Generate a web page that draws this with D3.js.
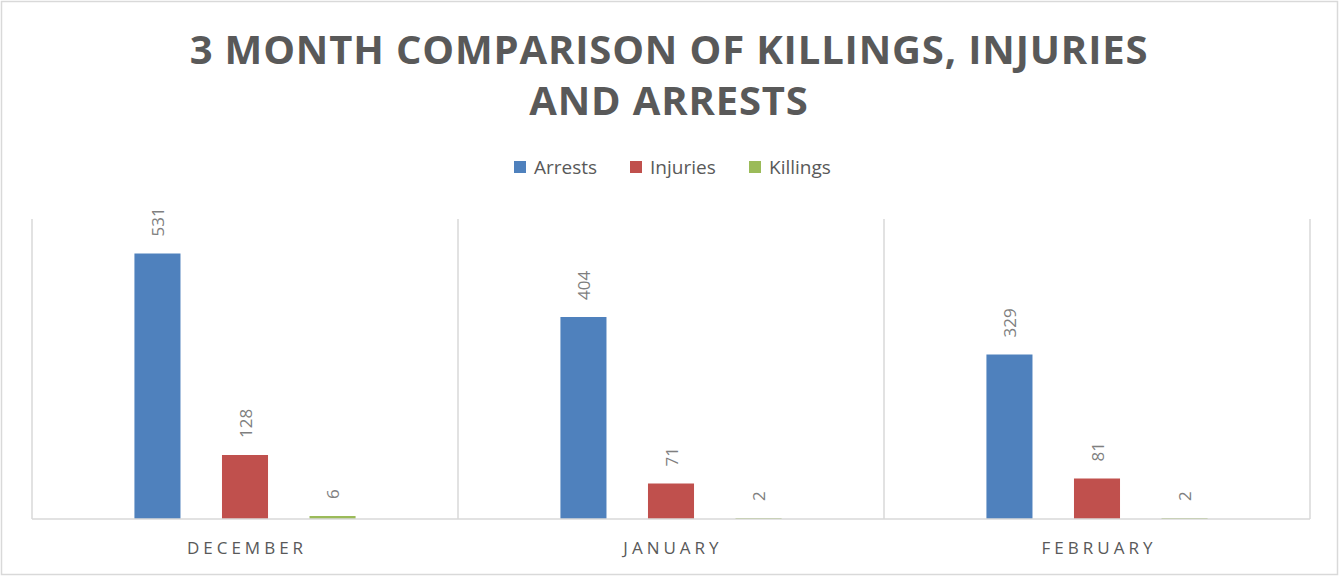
<!DOCTYPE html>
<html>
<head>
<meta charset="utf-8">
<script src="https://cdn.jsdelivr.net/npm/d3@7"></script>
<style>
  html, body { margin: 0; padding: 0; background: #fff; }
  svg { display: block; }
</style>
</head>
<body>
<div id="chart"></div>
<script>
const months = ["DECEMBER", "JANUARY", "FEBRUARY"];
const seriesNames = ["Arrests", "Injuries", "Killings"];
const arrests = [531, 404, 329];
const injuries = [128, 71, 81];
const killings = [6, 2, 2];
const colors = ["#4f81bd", "#c0504d", "#9bbb59"];
const titleLines = ["3 MONTH COMPARISON OF KILLINGS, INJURIES", "AND ARRESTS"];

const width = 1339, height = 576;
const margin = { top: 219, right: 29, bottom: 57, left: 32 };
const values = [arrests, injuries, killings];

const svg = d3.select('#chart')
  .append('svg')
  .attr('width', width)
  .attr('height', height);

// outer frame
svg.append('rect')
  .attr('x', 1.5).attr('y', 1.5)
  .attr('width', width - 3).attr('height', height - 3)
  .attr('fill', '#fff')
  .attr('stroke', '#d9d9d9')
  .attr('stroke-width', 1.5);

// title
const title = svg.append('text')
  .attr('text-anchor', 'middle')
  .attr('font-family', 'Open Sans, sans-serif')
  .attr('font-weight', 'bold')
  .attr('font-size', '40px')
  .attr('letter-spacing', '0.85px')
  .attr('fill', '#595959');
title.selectAll('tspan')
  .data(titleLines)
  .enter()
  .append('tspan')
  .attr('x', 669)
  .attr('y', (d, i) => 64 + i * 51)
  .text(d => d);

// legend
const legendX = [514, 630, 749];
const legend = svg.append('g');
seriesNames.forEach((name, i) => {
  legend.append('rect')
    .attr('x', legendX[i]).attr('y', 161)
    .attr('width', 12).attr('height', 12)
    .attr('fill', colors[i]);
  legend.append('text')
    .attr('x', legendX[i] + 20).attr('y', 174)
    .attr('font-family', 'Open Sans, sans-serif')
    .attr('font-size', '19px')
    .attr('fill', '#595959')
    .text(name);
});

const x0 = d3.scaleBand()
  .domain(months)
  .range([margin.left, width - margin.right]);

const x1 = d3.scaleBand()
  .domain(seriesNames)
  .range([0, x0.bandwidth()])
  .paddingInner(0.474)
  .paddingOuter(1.17);

const y = d3.scaleLinear()
  .domain([0, 600])
  .range([height - margin.bottom, margin.top]);

// category separators
const bounds = months.map(m => x0(m)).concat([width - margin.right]);
svg.append('g')
  .selectAll('line')
  .data(bounds)
  .enter()
  .append('line')
  .attr('x1', d => d).attr('x2', d => d)
  .attr('y1', y(600)).attr('y2', y(0))
  .attr('stroke', '#d9d9d9')
  .attr('stroke-width', 1.5);

// bars
const groups = svg.append('g')
  .selectAll('g')
  .data(months)
  .enter()
  .append('g')
  .attr('transform', d => `translate(${x0(d)},0)`);

groups.selectAll('rect')
  .data((m, mi) => seriesNames.map((s, si) => ({ s, si, v: values[si][mi] })))
  .enter()
  .append('rect')
  .attr('x', d => x1(d.s))
  .attr('y', d => y(d.v))
  .attr('width', x1.bandwidth())
  .attr('height', d => y(0) - y(d.v))
  .attr('fill', d => colors[d.si]);

// rotated value labels
groups.selectAll('text')
  .data((m, mi) => seriesNames.map((s, si) => ({ s, si, v: values[si][mi] })))
  .enter()
  .append('text')
  .attr('transform', d => `translate(${x1(d.s) + x1.bandwidth() / 2},${y(d.v) - 17}) rotate(-90)`)
  .attr('text-anchor', 'start')
  .attr('dominant-baseline', 'central')
  .attr('font-family', 'Open Sans, sans-serif')
  .attr('font-size', '17px')
  .attr('fill', '#7f7f7f')
  .text(d => d.v);

// axis line
svg.append('line')
  .attr('x1', margin.left).attr('x2', width - margin.right)
  .attr('y1', y(0)).attr('y2', y(0))
  .attr('stroke', '#d9d9d9')
  .attr('stroke-width', 1.5);

// category labels
svg.append('g')
  .selectAll('text')
  .data(months)
  .enter()
  .append('text')
  .attr('x', d => x0(d) + x0.bandwidth() / 2 + 2)
  .attr('y', 554)
  .attr('text-anchor', 'middle')
  .attr('font-family', 'Open Sans, sans-serif')
  .attr('font-size', '17px')
  .attr('letter-spacing', '4px')
  .attr('fill', '#595959')
  .text(d => d);
</script>
</body>
</html>
